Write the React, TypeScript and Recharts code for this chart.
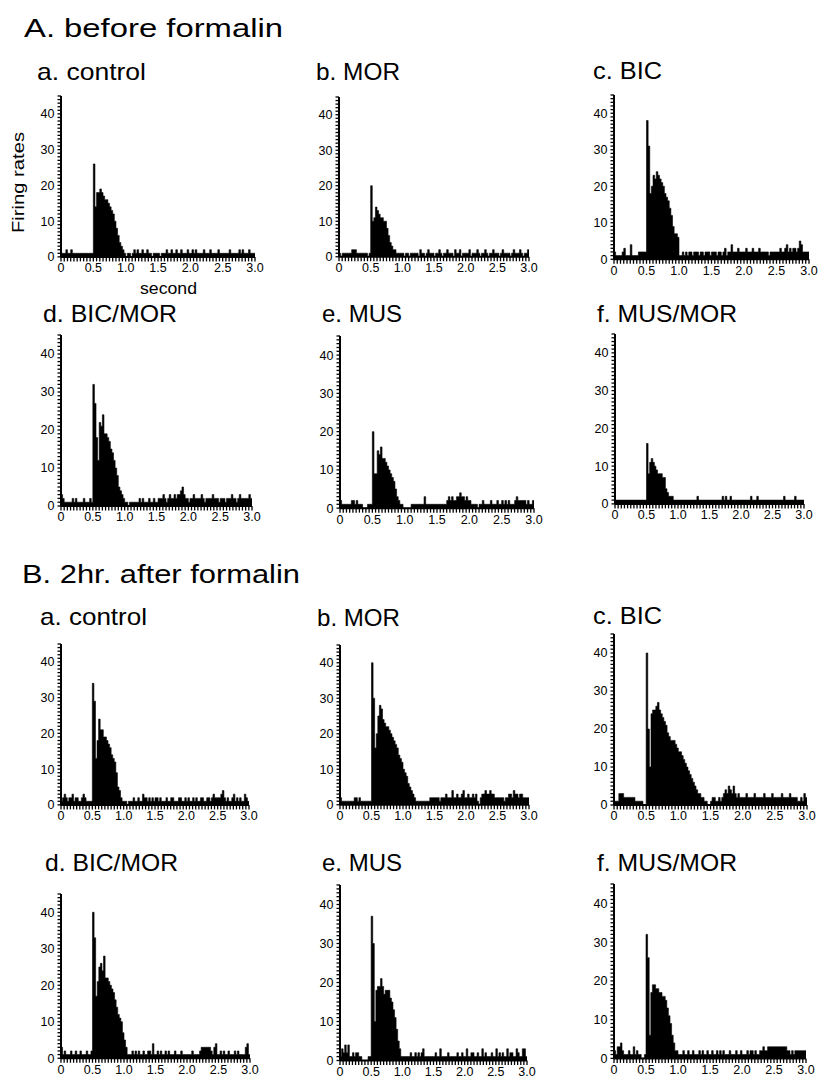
import { AreaChart, Area, XAxis, YAxis } from 'recharts'

// 25 ms bins from 0 to 3.0 s (120 bins per histogram)
const BIN = 0.025

const X_MAJOR = [0, 0.5, 1, 1.5, 2, 2.5, 3]
const X_LABELS = ['0', '0.5', '1.0', '1.5', '2.0', '2.5', '3.0']
const Y_MAJOR = [0, 10, 20, 30, 40]
const Y_LABELS = ['0', '10', '20', '30', '40']

// A. before formalin
const A_CONTROL = [
  1, 1, 1, 2, 1, 1, 2, 1, 1, 1, 1, 1, 1, 1, 1, 1, 1, 1, 1, 1,
  26, 14, 18, 18, 19, 18, 17, 16, 16, 15, 14, 13, 12, 10, 8, 6, 4, 3, 2, 1,
  0, 1, 1, 0, 1, 2, 1, 2, 1, 1, 2, 1, 1, 2, 1, 1, 0, 1, 1, 1,
  1, 0, 1, 1, 1, 2, 1, 1, 2, 1, 1, 2, 1, 1, 2, 1, 1, 1, 2, 1,
  1, 2, 1, 2, 1, 1, 1, 1, 2, 1, 1, 1, 2, 1, 1, 1, 1, 2, 1, 1,
  1, 1, 1, 1, 2, 1, 1, 1, 1, 1, 2, 1, 2, 1, 1, 1, 2, 1, 1, 1,
]
const A_MOR = [
  1, 0, 1, 1, 1, 1, 1, 1, 2, 2, 2, 1, 1, 1, 1, 1, 1, 1, 0, 1,
  20, 10, 11, 14, 13, 12, 11, 11, 10, 10, 8, 6, 4, 3, 2, 2, 1, 1, 1, 1,
  1, 0, 1, 1, 0, 1, 1, 1, 1, 1, 0, 2, 1, 1, 0, 1, 2, 1, 1, 1,
  0, 1, 1, 2, 1, 0, 1, 1, 2, 1, 1, 1, 0, 2, 1, 1, 2, 0, 1, 1,
  1, 1, 2, 0, 1, 1, 1, 2, 1, 0, 1, 1, 2, 1, 0, 1, 1, 2, 1, 1,
  1, 0, 1, 2, 1, 1, 1, 1, 0, 1, 2, 1, 1, 1, 2, 1, 0, 1, 1, 2,
]
const A_BIC = [
  2, 1, 1, 1, 1, 2, 3, 1, 1, 1, 4, 1, 1, 1, 1, 2, 2, 2, 2, 2,
  38, 31, 18, 20, 23, 22, 24, 23, 22, 21, 20, 18, 17, 16, 14, 12, 9, 7, 7, 6,
  1, 1, 2, 1, 2, 1, 2, 2, 1, 2, 2, 2, 1, 2, 2, 1, 2, 2, 2, 1,
  2, 2, 2, 1, 2, 2, 1, 2, 3, 1, 2, 2, 4, 2, 2, 2, 3, 2, 2, 2,
  2, 3, 2, 2, 2, 3, 2, 2, 2, 3, 2, 2, 2, 2, 2, 1, 2, 2, 2, 2,
  2, 2, 3, 2, 2, 3, 4, 2, 3, 2, 3, 3, 2, 3, 5, 4, 2, 2, 2, 2,
]
const A_BIC_MOR = [
  3, 2, 1, 1, 1, 1, 1, 2, 1, 2, 1, 1, 1, 1, 2, 1, 1, 1, 2, 1,
  32, 27, 18, 12, 22, 21, 24, 19, 19, 18, 17, 15, 14, 12, 10, 8, 5, 4, 3, 2,
  1, 1, 0, 1, 1, 1, 1, 1, 1, 2, 1, 2, 1, 1, 1, 2, 1, 1, 2, 1,
  1, 2, 2, 2, 3, 2, 1, 2, 3, 2, 2, 3, 2, 3, 3, 4, 5, 3, 2, 2,
  1, 2, 2, 3, 2, 2, 2, 2, 3, 2, 1, 2, 2, 2, 2, 3, 2, 2, 2, 1,
  2, 2, 2, 1, 2, 2, 2, 3, 2, 2, 1, 2, 3, 2, 2, 2, 2, 2, 3, 2,
]
const A_MUS = [
  2, 1, 1, 1, 1, 1, 1, 2, 2, 1, 2, 1, 1, 1, 0, 0, 0, 1, 1, 1,
  20, 9, 9, 15, 14, 16, 13, 13, 12, 11, 10, 9, 8, 7, 5, 3, 2, 1, 1, 0,
  0, 0, 0, 0, 1, 1, 1, 1, 1, 1, 1, 1, 3, 1, 1, 1, 1, 1, 1, 1,
  1, 1, 1, 1, 1, 1, 2, 3, 2, 3, 2, 2, 3, 3, 4, 3, 3, 2, 3, 2,
  2, 1, 1, 1, 1, 0, 1, 1, 2, 1, 1, 1, 1, 2, 1, 1, 1, 2, 1, 1,
  2, 1, 2, 1, 2, 1, 1, 1, 2, 3, 2, 2, 2, 2, 2, 1, 2, 1, 1, 2,
]
const A_MUS_MOR = [
  1, 1, 1, 1, 1, 1, 1, 1, 1, 1, 1, 1, 1, 1, 1, 1, 1, 1, 1, 1,
  16, 8, 11, 12, 11, 10, 9, 8, 8, 8, 7, 7, 4, 3, 2, 2, 2, 1, 1, 1,
  1, 1, 1, 1, 1, 1, 1, 1, 1, 1, 1, 1, 2, 1, 1, 1, 1, 1, 1, 1,
  1, 1, 1, 1, 1, 1, 1, 1, 2, 1, 2, 1, 1, 2, 1, 1, 1, 1, 1, 1,
  1, 1, 1, 1, 1, 1, 2, 1, 1, 1, 2, 1, 1, 1, 1, 1, 1, 1, 1, 1,
  1, 1, 1, 1, 1, 1, 1, 2, 1, 1, 1, 1, 1, 1, 2, 1, 1, 1, 1, 1,
]

// B. 2hr. after formalin
const B_CONTROL = [
  1, 2, 3, 2, 1, 2, 2, 3, 1, 2, 2, 1, 1, 2, 3, 2, 1, 1, 1, 1,
  34, 29, 13, 18, 24, 21, 21, 19, 19, 18, 17, 16, 14, 13, 12, 9, 5, 4, 2, 1,
  1, 1, 0, 1, 1, 1, 2, 1, 1, 2, 1, 1, 3, 2, 2, 1, 2, 1, 2, 1,
  2, 2, 1, 2, 1, 1, 1, 2, 1, 1, 2, 2, 1, 1, 1, 2, 2, 1, 1, 2,
  1, 2, 1, 1, 2, 1, 2, 1, 1, 2, 2, 1, 1, 2, 2, 1, 2, 3, 2, 2,
  2, 2, 3, 4, 2, 1, 2, 1, 1, 2, 3, 1, 2, 1, 2, 1, 1, 3, 2, 1,
]
const B_MOR = [
  2, 1, 1, 1, 1, 1, 1, 1, 1, 2, 2, 1, 2, 1, 1, 1, 1, 1, 1, 1,
  40, 30, 16, 20, 25, 28, 27, 24, 23, 22, 22, 21, 20, 19, 18, 17, 16, 14, 13, 12,
  10, 9, 8, 6, 5, 4, 3, 2, 1, 1, 1, 1, 1, 1, 1, 1, 1, 2, 2, 2,
  2, 2, 2, 1, 2, 2, 2, 3, 2, 2, 2, 4, 2, 2, 3, 2, 2, 3, 4, 2,
  2, 3, 2, 2, 3, 2, 3, 1, 0, 2, 3, 3, 4, 3, 3, 4, 3, 3, 2, 2,
  2, 2, 2, 2, 1, 2, 2, 3, 3, 2, 4, 3, 3, 2, 3, 3, 2, 2, 2, 2,
]
const B_BIC = [
  1, 1, 1, 3, 3, 3, 2, 2, 2, 2, 2, 2, 2, 1, 1, 1, 1, 1, 0, 0,
  40, 20, 10, 24, 25, 25, 26, 27, 25, 24, 23, 22, 21, 19, 18, 17, 17, 17, 16, 15,
  14, 14, 13, 12, 11, 10, 9, 8, 7, 6, 5, 4, 3, 3, 2, 2, 1, 1, 0, 0,
  1, 2, 2, 1, 1, 2, 1, 2, 3, 4, 3, 5, 4, 3, 5, 3, 2, 3, 2, 2,
  2, 2, 3, 2, 2, 2, 2, 3, 2, 2, 2, 2, 2, 3, 2, 2, 2, 2, 3, 2,
  2, 2, 2, 2, 3, 2, 2, 2, 2, 3, 2, 2, 2, 2, 1, 1, 2, 1, 3, 2,
]
const B_BIC_MOR = [
  3, 1, 2, 1, 1, 1, 2, 1, 1, 2, 1, 1, 2, 1, 1, 1, 2, 1, 1, 2,
  40, 33, 17, 21, 25, 26, 24, 28, 22, 22, 21, 20, 19, 18, 16, 14, 12, 11, 10, 7,
  5, 3, 1, 1, 1, 2, 1, 2, 1, 2, 1, 1, 2, 1, 1, 2, 2, 1, 4, 1,
  1, 2, 1, 2, 1, 1, 2, 1, 2, 1, 1, 1, 2, 1, 1, 1, 2, 1, 1, 1,
  1, 1, 1, 2, 1, 1, 1, 1, 2, 3, 3, 3, 3, 3, 3, 2, 1, 3, 4, 1,
  1, 2, 1, 2, 1, 1, 2, 1, 1, 1, 2, 1, 2, 1, 1, 1, 1, 3, 4, 1,
]
const B_MUS = [
  1, 3, 2, 4, 2, 4, 1, 1, 2, 1, 2, 2, 1, 1, 0, 0, 0, 0, 1, 1,
  37, 30, 10, 18, 19, 19, 21, 19, 17, 18, 18, 18, 16, 15, 13, 11, 8, 5, 3, 1,
  1, 1, 1, 1, 1, 2, 1, 1, 2, 1, 2, 1, 2, 3, 1, 1, 1, 1, 1, 1,
  1, 2, 1, 1, 3, 1, 1, 1, 1, 2, 1, 1, 1, 1, 1, 2, 1, 1, 2, 1,
  1, 3, 1, 1, 2, 2, 1, 1, 2, 1, 1, 3, 1, 2, 1, 1, 1, 2, 1, 1,
  3, 1, 2, 1, 2, 1, 1, 3, 1, 2, 2, 1, 1, 3, 2, 1, 1, 3, 3, 1,
]
const B_MUS_MOR = [
  2, 1, 3, 3, 4, 2, 1, 1, 1, 2, 1, 1, 3, 1, 2, 1, 1, 0, 0, 1,
  32, 26, 6, 17, 19, 19, 18, 18, 17, 17, 16, 16, 15, 13, 11, 9, 6, 4, 2, 2,
  1, 1, 1, 2, 1, 1, 2, 1, 1, 2, 1, 1, 1, 2, 1, 2, 1, 1, 2, 1,
  1, 2, 1, 1, 2, 1, 2, 1, 2, 1, 1, 1, 2, 1, 1, 1, 2, 1, 1, 2,
  1, 1, 1, 2, 1, 2, 2, 1, 2, 1, 1, 2, 2, 3, 2, 2, 3, 3, 3, 3,
  3, 3, 3, 3, 3, 3, 3, 3, 2, 2, 1, 2, 1, 2, 2, 2, 2, 2, 2, 2,
]

const PANEL_TITLES = [
  'a. control', 'b. MOR', 'c. BIC', 'd. BIC/MOR', 'e. MUS', 'f. MUS/MOR',
  'a. control', 'b. MOR', 'c. BIC', 'd. BIC/MOR', 'e. MUS', 'f. MUS/MOR',
]

// geometry: x0/x3 = pixel of 0 s and 3 s, y0/y40 = pixel of 0 and 40
const PANELS = [
  { values: A_CONTROL, x0: 61, x3: 255, y0: 257, y40: 114, tx: 37, ty: 79.5, tw: 109 },
  { values: A_MOR, x0: 339, x3: 529, y0: 257, y40: 115, tx: 316, ty: 80, tw: 84 },
  { values: A_BIC, x0: 614, x3: 809, y0: 259, y40: 113, tx: 593, ty: 79, tw: 69 },
  { values: A_BIC_MOR, x0: 61, x3: 252, y0: 506, y40: 354, tx: 43, ty: 322, tw: 134 },
  { values: A_MUS, x0: 340, x3: 534, y0: 508, y40: 355, tx: 322, ty: 322, tw: 80 },
  { values: A_MUS_MOR, x0: 615, x3: 804, y0: 504, y40: 353, tx: 597, ty: 322, tw: 140 },
  { values: B_CONTROL, x0: 61, x3: 249, y0: 805, y40: 662, tx: 40, ty: 625, tw: 107 },
  { values: B_MOR, x0: 340, x3: 529, y0: 805, y40: 663, tx: 317, ty: 626, tw: 83 },
  { values: B_BIC, x0: 614, x3: 807, y0: 805, y40: 653, tx: 593, ty: 624, tw: 69 },
  { values: B_BIC_MOR, x0: 61, x3: 250, y0: 1058, y40: 912, tx: 45, ty: 871, tw: 133 },
  { values: B_MUS, x0: 340, x3: 527, y0: 1060, y40: 904, tx: 322, ty: 871, tw: 80 },
  { values: B_MUS_MOR, x0: 614, x3: 806, y0: 1058, y40: 903, tx: 597, ty: 871, tw: 140 },
]

// all tick positions: every 50 ms on x, every 1 unit on y; labels only on the majors
const X_TICKS = Array.from({ length: 61 }, (_, i) => i / 20)
const Y_TICKS = Array.from({ length: 46 }, (_, i) => i)

const TICK_FONT = "'Liberation Sans Narrow', 'Liberation Sans', Arial, sans-serif"
const TEXT_FONT = "'Liberation Sans', Arial, sans-serif"

function toBins(values: number[]) {
  const rows = values.map((v, i) => ({ t: i * BIN, v }))
  rows.push({ t: 3, v: values[values.length - 1] })
  return rows
}

function xLabel(v: number) {
  const idx = X_MAJOR.findIndex((m) => Math.abs(m - v) < 1e-6)
  return idx < 0 ? '' : X_LABELS[idx]
}

function yLabel(v: number) {
  const idx = Y_MAJOR.indexOf(v)
  return idx < 0 ? '' : Y_LABELS[idx]
}

function Panel({ p }: { p: (typeof PANELS)[number] }) {
  const unit = (p.y0 - p.y40) / 40
  const plotH = 45 * unit
  const plotW = p.x3 - p.x0
  const ML = 40
  const MT = 4
  const MR = 16
  const XH = 24
  return (
    <div style={{ position: 'absolute', left: p.x0 - ML, top: p.y0 - plotH - MT }}>
      <AreaChart
        width={plotW + ML + MR}
        height={plotH + MT + XH}
        data={toBins(p.values)}
        margin={{ top: MT, right: MR, bottom: 0, left: 0 }}
      >
        <XAxis
          dataKey="t"
          type="number"
          domain={[0, 3]}
          ticks={X_TICKS}
          interval={0}
          height={XH}
          tickSize={4.5}
          tickMargin={2}
          tickLine={{ stroke: '#000', strokeWidth: 1.3 }}
          tickFormatter={xLabel}
          tick={{ fontSize: 12.5, fontFamily: TICK_FONT, fill: '#000' }}
          axisLine={{ stroke: '#000', strokeWidth: 2 }}
        />
        <YAxis
          type="number"
          domain={[0, 45]}
          ticks={Y_TICKS}
          interval={0}
          width={ML}
          tickSize={3.5}
          tickMargin={3}
          tickLine={{ stroke: '#000', strokeWidth: 1.3 }}
          tickFormatter={yLabel}
          tick={{ fontSize: 12.5, fontFamily: TICK_FONT, fill: '#000' }}
          axisLine={{ stroke: '#000', strokeWidth: 2 }}
        />
        <Area
          type="stepAfter"
          dataKey="v"
          stroke="#000"
          strokeWidth={0.6}
          fill="#000"
          fillOpacity={1}
          dot={false}
          activeDot={false}
          isAnimationActive={false}
        />
      </AreaChart>
    </div>
  )
}

export default function App() {
  return (
    <div style={{ position: 'absolute', left: 0, top: 0, width: 823, height: 1082, background: '#fff' }}>
      <svg width={823} height={1082} style={{ position: 'absolute', left: 0, top: 0 }} fontFamily={TEXT_FONT} fill="#000">
        <text x={24} y={37} fontSize={26} textLength={259} lengthAdjust="spacingAndGlyphs">
          A. before formalin
        </text>
        <text x={22} y={583} fontSize={26} textLength={278} lengthAdjust="spacingAndGlyphs">
          B. 2hr. after formalin
        </text>
        {PANELS.map((p, i) => (
          <text key={i} x={p.tx} y={p.ty} fontSize={24} textLength={p.tw} lengthAdjust="spacingAndGlyphs">
            {PANEL_TITLES[i]}
          </text>
        ))}
        <text
          transform="translate(24,182.5) rotate(-90)"
          textAnchor="middle"
          fontSize={17}
          textLength={101}
          lengthAdjust="spacingAndGlyphs"
        >
          Firing rates
        </text>
        <text x={140} y={294} fontSize={17} textLength={57} lengthAdjust="spacingAndGlyphs">
          second
        </text>
      </svg>
      {PANELS.map((p, i) => (
        <Panel key={i} p={p} />
      ))}
    </div>
  )
}
